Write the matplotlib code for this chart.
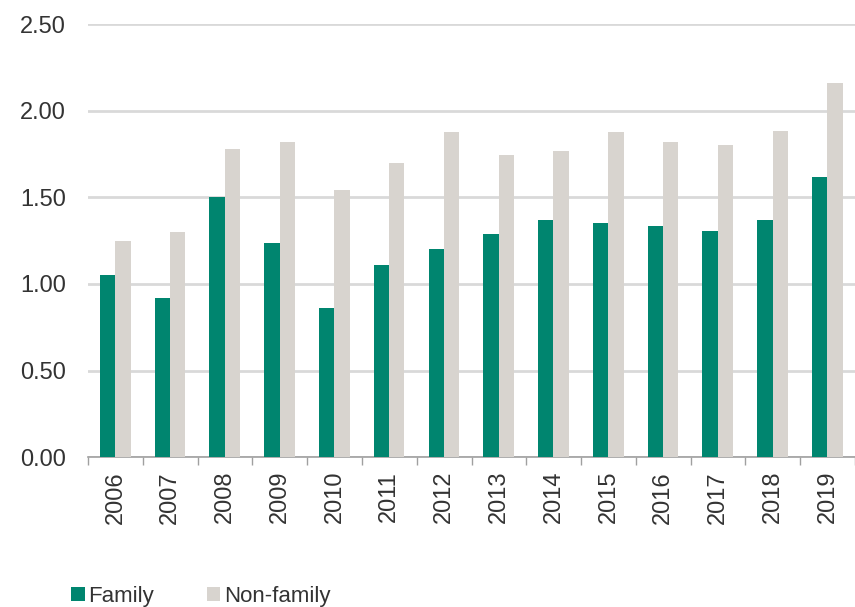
import matplotlib
matplotlib.use("Agg")
import matplotlib.pyplot as plt
import numpy as np
from matplotlib.patches import Patch

years = ["2006", "2007", "2008", "2009", "2010", "2011", "2012",
         "2013", "2014", "2015", "2016", "2017", "2018", "2019"]
family = [1.05, 0.92, 1.50, 1.235, 0.86, 1.11, 1.20, 1.29, 1.37, 1.35, 1.335, 1.305, 1.37, 1.62]
non_family = [1.25, 1.30, 1.78, 1.82, 1.54, 1.70, 1.88, 1.745, 1.77, 1.875, 1.82, 1.80, 1.885, 2.16]
yticks = [0.0, 0.5, 1.0, 1.5, 2.0, 2.5]

GREEN = "#00856F"
GREY = "#D8D4CF"
TXT = "#333333"

plt.rcParams['font.family'] = ['Liberation Sans', 'DejaVu Sans']

fig = plt.figure(figsize=(8.55, 6.07), dpi=100)
ax = fig.add_axes([0.103, 0.247, 0.897, 0.713])

x = np.arange(len(years))
w = 0.28
ax.bar(x - w / 2 - 0.005, family, width=w, color=GREEN, zorder=3)
ax.bar(x + w / 2 - 0.005, non_family, width=w, color=GREY, zorder=3)

ax.set_xlim(-0.5, len(years) - 0.5)
ax.set_ylim(0, 2.5)
ax.set_yticks(yticks)
ax.set_yticklabels([f"{v:.2f}" for v in yticks])
ax.yaxis.grid(True, color="#D9D9D9", linewidth=2)
ax.set_axisbelow(True)

ax.set_xticks(x)
ax.set_xticklabels(years, rotation=90)
ax.set_xticks(np.arange(-0.5, len(years), 1.0), minor=True)
ax.tick_params(axis="x", which="major", length=0, pad=10, labelsize=17, colors=TXT)
ax.tick_params(axis="x", which="minor", length=6, width=1, color="#A0A0A0")
ax.tick_params(axis="y", length=0, pad=16, labelsize=17, colors=TXT)

for s in ["top", "right", "left"]:
    ax.spines[s].set_visible(False)
ax.spines["bottom"].set_color("#A0A0A0")
ax.spines["bottom"].set_linewidth(1.2)

handles = [Patch(facecolor=GREEN, label="Family"), Patch(facecolor=GREY, label="Non-family")]
fig.legend(handles=handles, loc="lower left", bbox_to_anchor=(0.06, -0.033), ncol=2,
           frameon=False, fontsize=16, handlelength=0.6, handleheight=0.6,
           handletextpad=0.15, columnspacing=2.4, labelcolor=TXT)

fig.savefig("out.png", dpi=100)
